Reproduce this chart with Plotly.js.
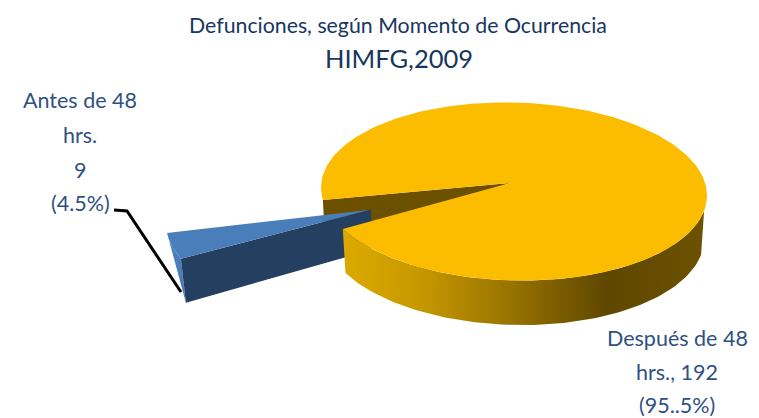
<!DOCTYPE html>
<html><head><meta charset="utf-8">
<script src="https://cdn.plot.ly/plotly-3.0.1.min.js"></script>
<style>html,body{margin:0;padding:0;background:#fff}#c{width:759px;height:418px}</style>
</head><body><div id="c"></div>
<script>
const categories = ["Antes de 48 hrs.", "Después de 48 hrs."];
const values = [9, 192];
const labelAntes = ["Antes de 48", "hrs.", "9", "(4.5%)"];
const labelDespues = ["Después de 48", "hrs., 192", "(95..5%)"];

const total = values[0] + values[1];
const FORESHORTEN = 1.21;
const sweep = values[0] / total * 360 * FORESHORTEN;
const startA = 172, endA = startA - sweep;   // small slice spans endA..startA
const rad = d => d * Math.PI / 180;

const top_ = {cx:514, cy:191.5, rx:193, ry:89, tilt:4};
const bot = {cx:514, cy:235, rx:190, ry:90, tilt:4};
const pt = (e, t) => [e.cx + e.rx*Math.cos(rad(t)), e.cy + e.ry*Math.sin(rad(t)) + e.tilt*Math.cos(rad(t))];
function arc(e, a, b, n=90){const o=[];for(let i=0;i<=n;i++)o.push(pt(e,a+(b-a)*i/n));return o;}
const xs = p => p.map(q=>q[0]), ys = p => p.map(q=>q[1]);
const poly = (p, color, extra={}) => Object.assign({type:'scatter',mode:'lines',x:xs(p).concat(p[0][0]),y:ys(p).concat(p[0][1]),
  fill:'toself',fillcolor:color,line:{width:0,color:color},hoverinfo:'skip',showlegend:false},extra);

const apex = [510,183];
// inner cut wall
const cutWall = poly([apex, pt(top_,startA), [325,240], [345,240]], '#6b5000');

// exploded slice
const tip = [369,210], sl = {sx:-26, rx:201.4, ry:99};
const blueA = 150.5, blueB = blueA + values[0]/total*360;
const blueArc = [];
for(let i=0;i<=20;i++){const t=rad(blueA+(blueB-blueA)*i/20);
  blueArc.push([tip[0]+sl.rx*Math.cos(t)+sl.sx*Math.sin(t), tip[1]+sl.ry*Math.sin(t)]);}
const depthB = [5,44];
const bLow = [blueArc[0][0]+depthB[0], blueArc[0][1]+depthB[1]];
const blueOuter = poly(blueArc.concat([bLow]), '#4a7ebb');
const blueSide = poly([tip,[371,210],[371,250],bLow,blueArc[0]], '#243f60');
const blueTop = poly([tip].concat(blueArc), '#4a7ebb');

// big slice
const wallTop = arc(top_, endA, 10);
const wallBot = arc(bot, 10, endA);
const wall = poly(wallTop.concat(wallBot), '#000', {
  fillgradient:{type:'horizontal',start:340,stop:710,
    colorscale:[[0,'#dcaa00'],[0.2,'#c99a00'],[0.45,'#9a7500'],[0.72,'#5f4700'],[1,'#6d5200']]}});
const yTop = poly([apex].concat(arc(top_, startA, endA+360, 240)), '#fcbd00');

const leader = {type:'scatter',mode:'lines',x:[114,127,181],y:[210,211,292],
  line:{color:'#000',width:3},hoverinfo:'skip',showlegend:false};

const labelFont = {family:'Lato, sans-serif',size:21.5,color:'#2f5181'};
const ann = [];
const antesY = [100,135,170,203], despY = [338,372,405];
labelAntes.forEach((s,i)=>ann.push({x:80,y:antesY[i],xref:'x',yref:'y',text:s,showarrow:false,font:labelFont}));
labelDespues.forEach((s,i)=>ann.push({x:677,y:despY[i],xref:'x',yref:'y',text:s,showarrow:false,font:labelFont}));
ann.push({x:398,y:25,xref:'x',yref:'y',text:'Defunciones, según Momento de Ocurrencia',showarrow:false,
  font:{family:'Lato, sans-serif',size:21.3,color:'#17375e'}});

Plotly.newPlot('c',[cutWall,blueOuter,blueSide,blueTop,wall,yTop,leader],{
  width:759,height:418,margin:{l:0,r:0,t:0,b:0},paper_bgcolor:'#fff',plot_bgcolor:'#fff',showlegend:false,
  title:{text:'HIMFG,2009',x:399/759,xanchor:'center',y:1-59/418,yanchor:'middle',font:{family:'Lato, sans-serif',size:25.5,color:'#17375e'}},
  xaxis:{range:[0,759],visible:false,fixedrange:true},
  yaxis:{range:[418,0],visible:false,fixedrange:true},
  annotations:ann
},{displayModeBar:false,staticPlot:true});
</script></body></html>
